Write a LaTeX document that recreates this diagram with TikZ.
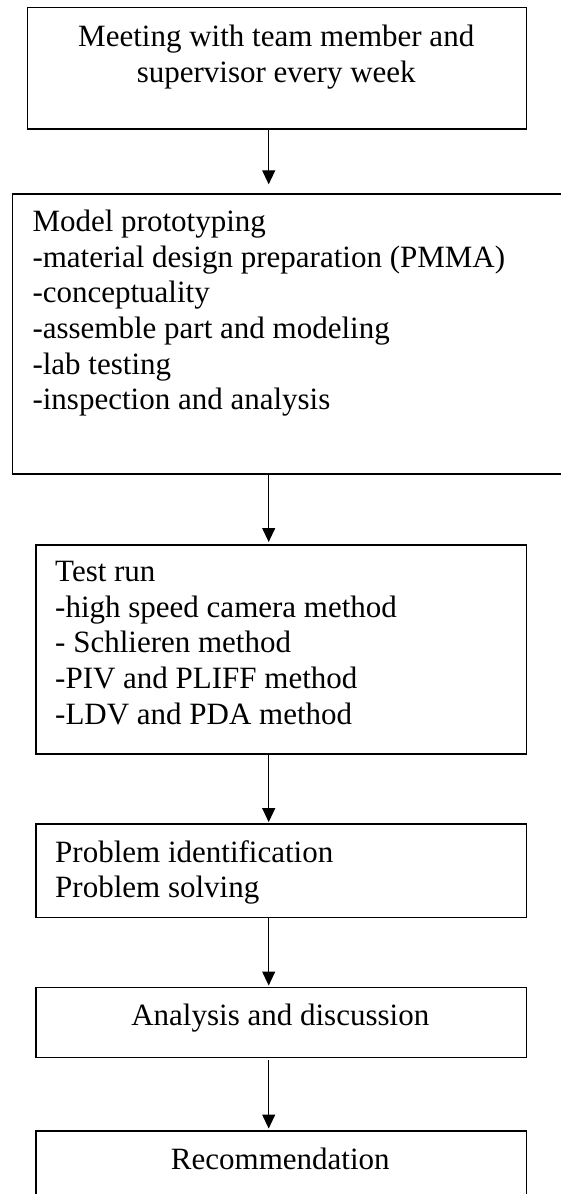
\documentclass[tikz,border=0pt]{standalone}
\usepackage{fontspec}
\setmainfont{Liberation Serif}
\usepackage{tikz}
\usetikzlibrary{arrows.meta}
\newcommand{\steplines}[2][l]{\begin{tabular}[t]{@{}#1@{}}#2\end{tabular}}

\begin{document}
\begin{tikzpicture}[
    x=1pt,y=-1pt,
    >={Triangle[length=14pt,width=13pt]},
    flow/.style={->,line width=1.1pt,draw=black},
    stagebox/.style={draw=black,line width=1.5pt,rectangle,inner sep=0pt,
      anchor=north west},
    stagetext/.style={inner sep=0pt,font=\fontsize{31}{35.6}\selectfont}
  ]
    \useasboundingbox (0,0) rectangle (560,1194);
    \coordinate (axis) at (268.7,0);

    % Weekly meeting.
    \node[stagebox,minimum width=498.9pt,minimum height=121.3pt] (meet) at (26.8,6.7) {};
    \node[stagetext,anchor=base] (meettext) at (276.2,46.7)
      {\steplines[c]{Meeting with team member and\\supervisor every week}};

    % Prototyping: wide box, runs past the right margin.
    \node[stagebox,minimum width=575pt,minimum height=280pt] (proto) at (11.7,193.3) {};
    \node[stagetext,anchor=base west] (prototext) at (32.3,231.7)
      {\steplines{Model prototyping\\-material design preparation (PMMA)\\-conceptuality\\
        -assemble part and modeling\\-lab testing\\-inspection and analysis}};

    % Test run.
    \node[stagebox,minimum width=490.7pt,minimum height=209.3pt] (test) at (35,544) {};
    \node[stagetext,anchor=base west] (testtext) at (55,581.7)
      {\steplines{Test run\\-high speed camera method\\- Schlieren method\\
        -PIV and PLIFF method\\-LDV and PDA method}};

    % Problems.
    \node[stagebox,minimum width=490.7pt,minimum height=93.4pt] (problem) at (35,823.3) {};
    \node[stagetext,anchor=base west] (problemtext) at (55,862.3)
      {\steplines{Problem identification\\Problem solving}};

    % Analysis and recommendation.
    \node[stagebox,minimum width=490.7pt,minimum height=70pt] (analysis) at (35,986.7) {};
    \node[stagetext,anchor=base] (analysistext) at (280.3,1025.7) {Analysis and discussion};
    \node[stagebox,minimum width=490.7pt,minimum height=95pt] (recommend) at (35,1130) {};
    \node[stagetext,anchor=base] (recommendtext) at (280.3,1169) {Recommendation};

    \draw[flow,shorten >=9pt] (meet.south -| axis) -- (proto.north -| axis);
    \draw[flow,shorten >=2pt] (proto.south -| axis) -- (test.north -| axis);
    \draw[flow,shorten >=1.2pt] (test.south -| axis) -- (problem.north -| axis);
    \draw[flow,shorten >=1.2pt] (problem.south -| axis) -- (analysis.north -| axis);
    \draw[flow,shorten <=2pt,shorten >=1.5pt] (analysis.south -| axis) -- (recommend.north -| axis);
  \end{tikzpicture}
\end{document}
